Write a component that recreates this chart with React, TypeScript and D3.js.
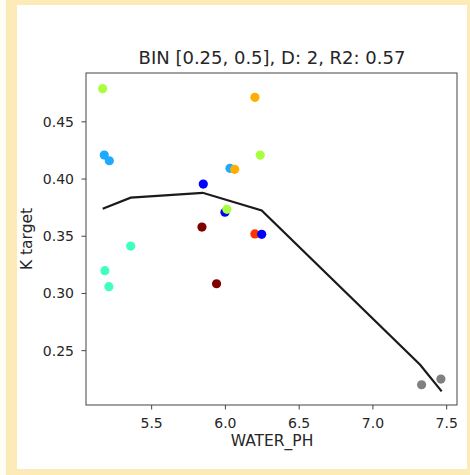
import React from 'react'
import * as d3 from 'd3'

// scatter points: water pH vs K target, coloured by bin
const phValues = [5.168, 6.2, 5.179, 5.213, 6.236, 6.031, 6.063, 5.85, 5.997, 6.01, 5.841, 6.2, 6.246, 5.358, 5.183, 5.21, 5.94, 7.33, 7.461]
const kValues = [0.479, 0.4714, 0.421, 0.416, 0.421, 0.4094, 0.4085, 0.3956, 0.371, 0.3735, 0.358, 0.352, 0.3517, 0.3414, 0.3199, 0.3059, 0.3085, 0.2202, 0.2252]
const pointColors = ['#a8ff3c', '#ffad00', '#1eaaff', '#1eaaff', '#a8ff3c', '#1eaaff', '#ffad00', '#0000ff', '#0000ff', '#a8ff3c', '#800000', '#ff3300', '#0000ff', '#40ffc0', '#40ffc0', '#40ffc0', '#800000', '#808080', '#808080']

// fitted curve
const fitPh = [5.168, 5.358, 5.846, 6.246, 7.32, 7.466]
const fitK = [0.374, 0.3837, 0.388, 0.3725, 0.2377, 0.2144]

const xTicks = [5.5, 6.0, 6.5, 7.0, 7.5]
const yTicks = [0.25, 0.3, 0.35, 0.4, 0.45]

const title = 'BIN [0.25, 0.5], D: 2, R2: 0.57'
const xLabel = 'WATER_PH'
const yLabel = 'K target'

export default function App() {
  const W = 470, H = 475
  const left = 86, right = 457, top = 73, bottom = 405
  const x = d3.scaleLinear().domain([5.055, 7.57]).range([left, right])
  const y = d3.scaleLinear().domain([0.2025, 0.4927]).range([bottom, top])
  const line = d3.line<number>()
    .x((d, i) => x(fitPh[i]))
    .y(d => y(d))
  const textColor = '#262626'
  const font = 'DejaVu Sans, sans-serif'

  return (
    <svg width={W} height={H} style={{ position: 'absolute', left: 0, top: 0 }}>
      <rect x={0} y={0} width={W} height={H} fill='#fffdf5' />
      <rect x={6} y={0} width={464} height={475} fill='#fdebb7' />
      <rect x={17} y={5} width={450} height={464} fill='#ffffff' />

      <text x={272} y={64} textAnchor='middle' fontFamily={font} fontSize={18} fill={textColor}>{title}</text>

      {phValues.map((p, i) => (
        <circle key={`pt-${i}`} cx={x(p)} cy={y(kValues[i])} r={4.6} fill={pointColors[i]} />
      ))}

      <path d={line(fitK) || ''} fill='none' stroke='#1a1a1a' strokeWidth={2.2} />

      <rect x={left} y={top} width={right - left} height={bottom - top} fill='none' stroke='#444' strokeWidth={1} />

      {xTicks.map(t => (
        <g key={`xt-${t}`}>
          <line x1={x(t)} x2={x(t)} y1={bottom} y2={bottom + 4.5} stroke='#444' />
          <text x={x(t)} y={428} textAnchor='middle' fontFamily={font} fontSize={14} fill={textColor}>{t.toFixed(1)}</text>
        </g>
      ))}
      {yTicks.map(t => (
        <g key={`yt-${t}`}>
          <line x1={left - 4.5} x2={left} y1={y(t)} y2={y(t)} stroke='#444' />
          <text x={74} y={y(t)} dy='0.35em' textAnchor='end' fontFamily={font} fontSize={14} fill={textColor}>{t.toFixed(2)}</text>
        </g>
      ))}

      <text x={272} y={446} textAnchor='middle' fontFamily={font} fontSize={15.5} fill={textColor}>{xLabel}</text>
      <text transform={`translate(32,${(top + bottom) / 2}) rotate(-90)`} textAnchor='middle' fontFamily={font} fontSize={15.5} fill={textColor}>{yLabel}</text>
    </svg>
  )
}
